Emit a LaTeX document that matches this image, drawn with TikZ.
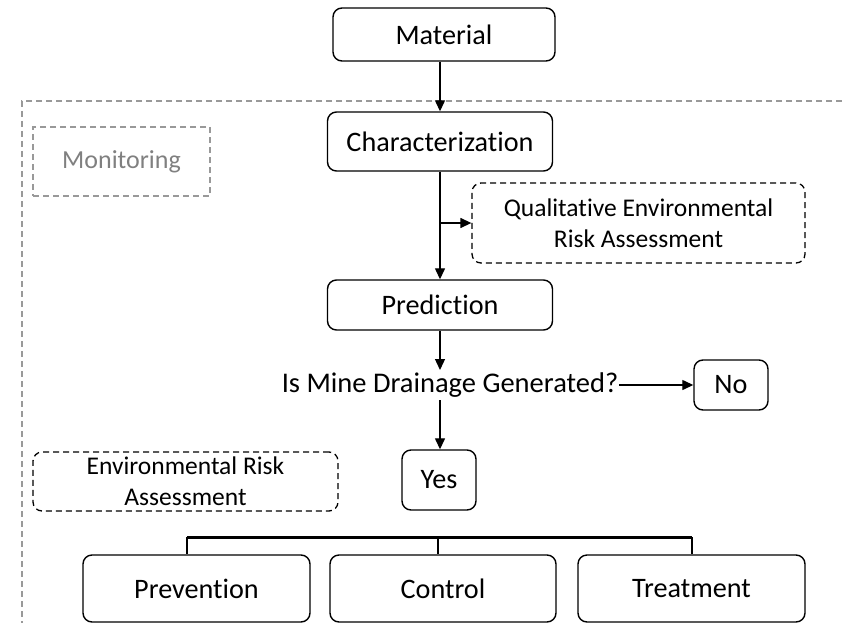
\documentclass[tikz,border=0pt]{standalone}
\usepackage{fontspec}
\setmainfont{Carlito}[Ligatures={NoCommon}]
\usetikzlibrary{arrows.meta}
\begin{document}
\begin{tikzpicture}[x=1pt,y=-1pt,
  box/.style={draw,rounded corners=9pt,line width=1.4pt,align=center,inner sep=0pt,font=\fontsize{28.2}{33}\selectfont},
  dbox/.style={box,dash pattern=on 6pt off 4pt,line width=1.3pt,font=\fontsize{25.5}{31}\selectfont},
  gbox/.style={box,dash pattern=on 6pt off 4pt,draw=gray!80,text=gray,line width=1.3pt,rounded corners=0pt,font=\fontsize{26}{31}\selectfont},
  arr/.style={line width=1.3pt,-{Triangle[length=11pt,width=10pt]}},
  ln/.style={line width=1.3pt}]
\useasboundingbox (0,0) rectangle (842,623);
\draw[gray!80,dash pattern=on 6pt off 4pt,line width=1.3pt] (842,101) -- (22,101) -- (22,623);
\node[box,minimum width=222pt,minimum height=53pt] (mat) at (444,34.5) {Material};
\node[gbox,minimum width=177pt,minimum height=69pt] (mon) at (121.5,161.5) {Monitoring};
\node[box,minimum width=225pt,minimum height=59pt] (char) at (440,141.5) {Characterization};
\node[dbox,minimum width=333pt,minimum height=80pt] (qual) at (638.5,223) {Qualitative Environmental\\Risk Assessment};
\node[box,minimum width=225pt,minimum height=50pt] (pred) at (440,305) {Prediction};
\node[font=\fontsize{28.5}{33}\selectfont,inner sep=1pt] (q) at (450,385) {Is Mine Drainage Generated?};
\node[box,minimum width=74pt,minimum height=50pt] (no) at (731,385) {No};
\node[box,minimum width=74pt,minimum height=60pt] (yes) at (439,480) {Yes};
\node[dbox,minimum width=305pt,minimum height=59pt] (era) at (185.5,481.5) {Environmental Risk\\Assessment};
\node[box,minimum width=227pt,minimum height=67pt] (prev) at (196.5,588.5) {Prevention};
\node[box,minimum width=226pt,minimum height=67pt] (ctrl) at (443,588.5) {Control};
\node[box,minimum width=227pt,minimum height=67pt] (treat) at (691.5,588.5) {Treatment};
\draw[arr] (mat.south -| char.north) -- (char.north);
\draw[arr] (char.south) -- (pred.north);
\coordinate (br) at (440,223);
\draw[arr] (br) -- (qual.west);
\coordinate (qt) at (440,370);
\draw[arr] (pred.south) -- (qt);
\draw[arr] (q.east) -- (no.west);
\coordinate (qb) at (440,400);
\draw[arr] (qb) -- (yes.north -| qb);
\coordinate (bl) at (187,537);
\coordinate (bm) at (438,537);
\coordinate (bR) at (692,537);
\draw[line width=3pt] (bl) -- (bR);
\draw[ln] (bl) -- (bl |- prev.north);
\draw[ln] (bm) -- (bm |- ctrl.north);
\draw[ln] (bR) -- (bR |- treat.north);
\end{tikzpicture}
\end{document}
